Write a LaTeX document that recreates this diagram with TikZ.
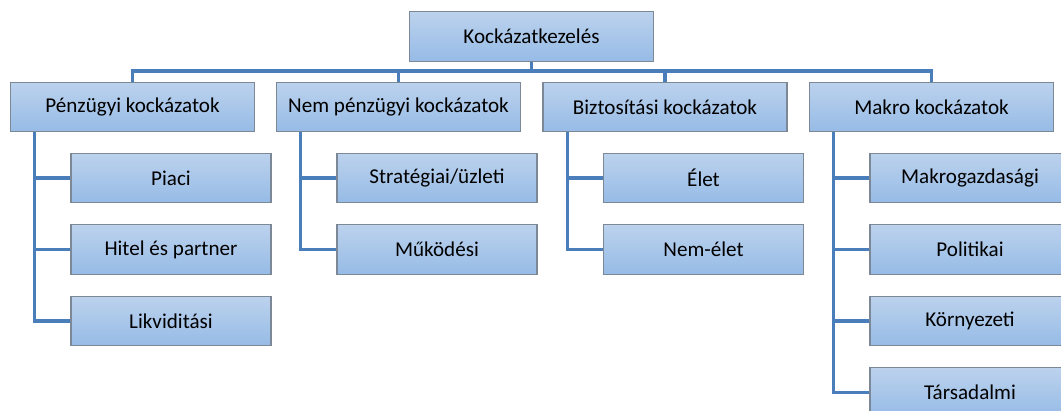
\documentclass[tikz,border=0pt]{standalone}
\usepackage{fontspec}
\setmainfont{Carlito}
\definecolor{boxtop}{RGB}{188,210,237}
\definecolor{boxbottom}{RGB}{150,187,230}
\definecolor{boxline}{RGB}{125,136,150}
\definecolor{linkblue}{RGB}{74,126,187}

\begin{document}
\begin{tikzpicture}[
  x=0.025cm,y=-0.025cm,
  every node/.style={rectangle,draw=boxline,line width=0.9pt,top color=boxtop,bottom color=boxbottom,
    minimum height=1.24cm,inner sep=0pt,font=\fontsize{15}{18}\selectfont},
  cat/.style={minimum width=6.1cm},
  leaf/.style={minimum width=5cm},
  link/.style={draw=linkblue,line width=2.3pt}]
  \useasboundingbox (0,0) rectangle (1061,410);
  \clip (0,0) rectangle (1061,410);
  \node[cat](root) at(531.5,36.5){Kockázatkezelés};
  \node[cat](pen) at(132.5,107){Pénzügyi kockázatok};
  \node[cat](nem) at(398.5,107){Nem pénzügyi kockázatok};
  \node[cat](biz) at(665,107){Biztosítási kockázatok};
  \node[cat](mak) at(931.5,107){Makro kockázatok};
  \node[leaf](piaci) at(171,178){Piaci};
  \node[leaf](hitel) at(171,249.5){Hitel és partner};
  \node[leaf](likv) at(171,321){Likviditási};
  \node[leaf](strat) at(437,178){Stratégiai/üzleti};
  \node[leaf](muk) at(437,249.5){Működési};
  \node[leaf](elet) at(703.5,178){Élet};
  \node[leaf](nemelet) at(703.5,249.5){Nem-élet};
  \node[leaf](makgazd) at(970,178){Makrogazdasági};
  \node[leaf](pol) at(970,249.5){Politikai};
  \node[leaf](korny) at(970,321){Környezeti};
  \node[leaf](tars) at(970,392.5){Társadalmi};
  \draw[link](root.south)--++(0,9)-|(pen.north);
  \draw[link](root.south)--++(0,9)-|(nem.north);
  \draw[link](root.south)--++(0,9)-|(biz.north);
  \draw[link](root.south)--++(0,9)-|(mak.north);
  \draw[link]([xshift=0.625cm]pen.south west)|-(piaci.west);
  \draw[link]([xshift=0.625cm]pen.south west)|-(hitel.west);
  \draw[link]([xshift=0.625cm]pen.south west)|-(likv.west);
  \draw[link]([xshift=0.625cm]nem.south west)|-(strat.west);
  \draw[link]([xshift=0.625cm]nem.south west)|-(muk.west);
  \draw[link]([xshift=0.625cm]biz.south west)|-(elet.west);
  \draw[link]([xshift=0.625cm]biz.south west)|-(nemelet.west);
  \draw[link]([xshift=0.625cm]mak.south west)|-(makgazd.west);
  \draw[link]([xshift=0.625cm]mak.south west)|-(pol.west);
  \draw[link]([xshift=0.625cm]mak.south west)|-(korny.west);
  \draw[link]([xshift=0.625cm]mak.south west)|-(tars.west);
\end{tikzpicture}
\end{document}
